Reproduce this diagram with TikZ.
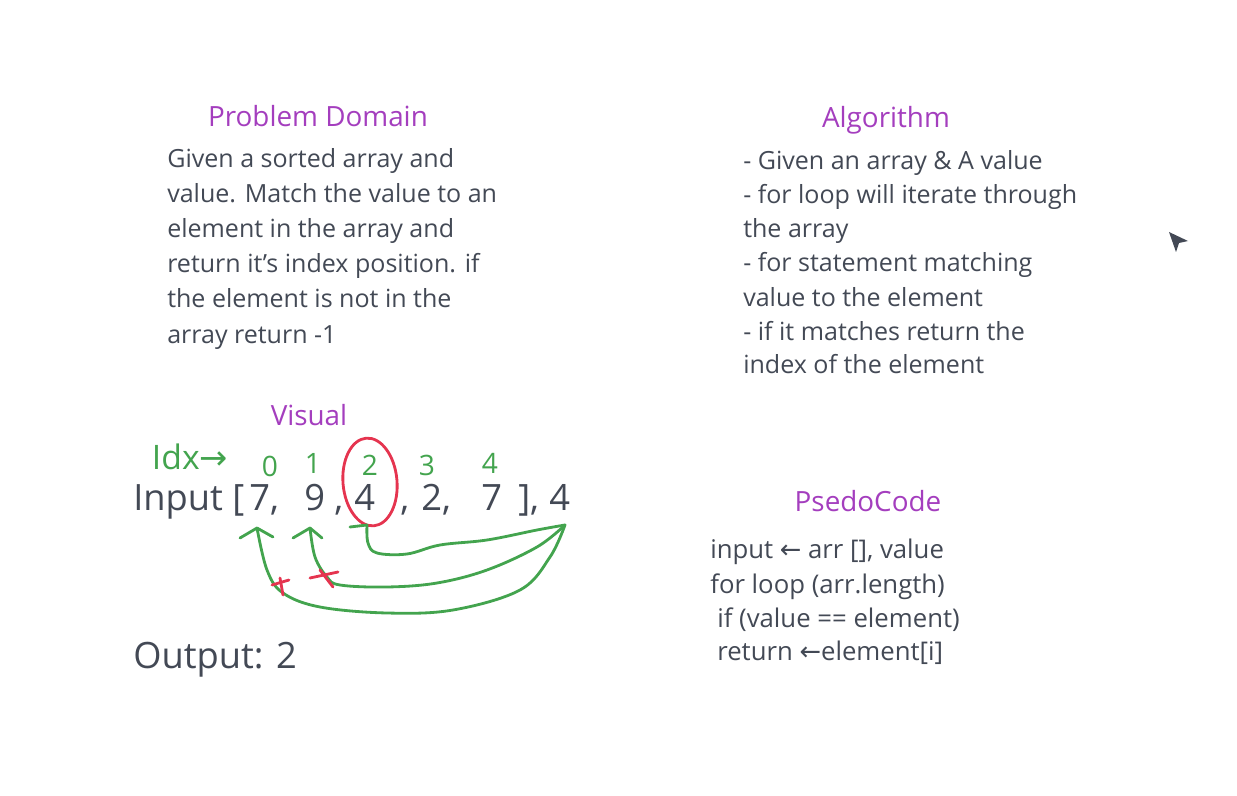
\documentclass[tikz,border=0pt]{standalone}
\usepackage{fontspec}
\setmainfont{Open Sans}
\newfontfamily\symfont{DejaVu Sans}
\usepackage{tikz}
\usetikzlibrary{calc}

\definecolor{inkgrey}{HTML}{434955}
\definecolor{headpurple}{HTML}{A43EBE}
\definecolor{markgreen}{HTML}{43A44E}
\definecolor{markred}{HTML}{E5344F}

\tikzset{
  heading/.style={text=headpurple, font=\fontsize{19.8}{22}\selectfont, anchor=base, inner sep=0pt},
  bodyline/.style={text=inkgrey, font=\fontsize{17.8}{20}\selectfont, anchor=base west, inner sep=0pt},
  codeline/.style={bodyline, font=\fontsize{18.3}{20}\selectfont},
  bigline/.style={text=inkgrey, font=\fontsize{25.8}{28}\selectfont, anchor=base west, inner sep=0pt},
  handnote/.style={text=markgreen, font=\fontsize{20}{22}\selectfont, anchor=base, inner sep=0pt},
  pen/.style={markgreen, line width=2pt, line cap=round, line join=round},
  redpen/.style={markred, line width=2pt, line cap=round, line join=round}
}

\begin{document}
\begin{tikzpicture}[x=0.25mm, y=-0.25mm]
        \useasboundingbox (0,0) rectangle (1237,796);

        % Problem domain
        \node[heading] (pdtitle) at (318,127) {Problem Domain};
        \foreach \txt [count=\i] in {{Given a sorted array and},
            {value. Match the value to an},
            {element in the array and},
            {return it's index position. if},
            {the element is not in the},
            {array return -1}}
          \node[bodyline] (pd\i) at (167,{168+35*(\i-1)}) {\txt};

        % Algorithm
        \node[heading] (algtitle) at (886,128) {Algorithm};
        \foreach \txt [count=\i] in {{- Given an array \& A value},
            {- for loop will iterate through},
            {the array},
            {- for statement matching},
            {value to the element},
            {- if it matches return the},
            {index of the element}}
          \node[bodyline] (alg\i) at (743,{170+34*(\i-1)}) {\txt};

        % Visual
        \node[heading] (vistitle) at (309,425) {Visual};
        \node[bigline] (inp) at (133,510) {Input [};
        \node[bigline] (el0) at (249,510) {7,};
        \node[bigline] (el1) at (304,510) {9 ,};
        \node[bigline] (el2) at (354,510) {4};
        \node[bigline] (cm2) at (400,510) {,};
        \node[bigline] (el3) at (421,510) {2,};
        \node[bigline] (el4) at (481,510) {7};
        \node[bigline] (cls) at (518,510) {],};
        \node[bigline] (val) at (549,510) {4};
        \node[bigline] (outp) at (133,668) {Output: 2};

        % Index notes
        \node[handnote, font=\fontsize{24}{26}\selectfont] (idx) at (190,469) {Idx{\symfont→}};
        \foreach \d/\x/\y in {0/270/476, 1/313/473, 2/370/475, 3/427/475, 4/490/473}
          \node[handnote] (ix\d) at (\x,\y) {\d};

        % Match on index 2
        \draw[redpen] (370,482) ellipse [x radius=27, y radius=44, rotate=5];

        % Arrow ends
        \coordinate (from) at ([shift={(16,15)}]val.base west);
        \coordinate (t0) at ([shift={(8,18)}]el0.base west);
        \coordinate (t1) at ([shift={(6,18)}]el1.base west);
        \coordinate (t2) at ([shift={(13,15)}]el2.base west);

        % Green loops
        \draw[pen] plot[smooth, tension=0.6] coordinates {(from) (550,557) (520,590) (453,610) (387,613) (320,607) (283,593) (267,570) (t0)};
        \draw[pen] plot[smooth, tension=0.6] coordinates {(from) (537,547) (487,570) (437,583) (387,587) (340,585) (327,577) (315,557) (t1)};
        \draw[pen] plot[smooth, tension=0.6] coordinates {(from) (537,530) (487,540) (440,545) (407,554) (377,553) (368,543) (t2)};

        % Arrow heads
        \draw[pen] ($(t0)+(-17,10)$) -- (t0) -- ($(t0)+(16,9)$);
        \draw[pen] ($(t1)+(-17,10)$) -- (t1) -- ($(t1)+(12,10)$);
        \draw[pen] ($(t2)+(-17,2)$) -- (t2);

        % Crossed out
        \draw[redpen] (272,585) -- (289,580);
        \draw[redpen] (280,578) -- (283,595);
        \draw[redpen] (310,578) -- (338,572);
        \draw[redpen] (320,570) -- (333,587);

        % Pseudocode
        \node[heading] (pctitle) at (868,511) {PsedoCode};
        \node[codeline] (pc1) at (710,558) {input {\symfont ←} arr [], value};
        \node[codeline] (pc2) at (710,593) {for loop (arr.length)};
        \node[codeline] (pc3) at (717,627) {if (value == element)};
        \node[codeline] (pc4) at (717,660) {return {\symfont ←}element[i]};

        % Cursor
        \fill[inkgrey] (1169,232) -- (1188,241) -- (1179,243) -- (1176,252) -- cycle;
    \end{tikzpicture}
\end{document}
